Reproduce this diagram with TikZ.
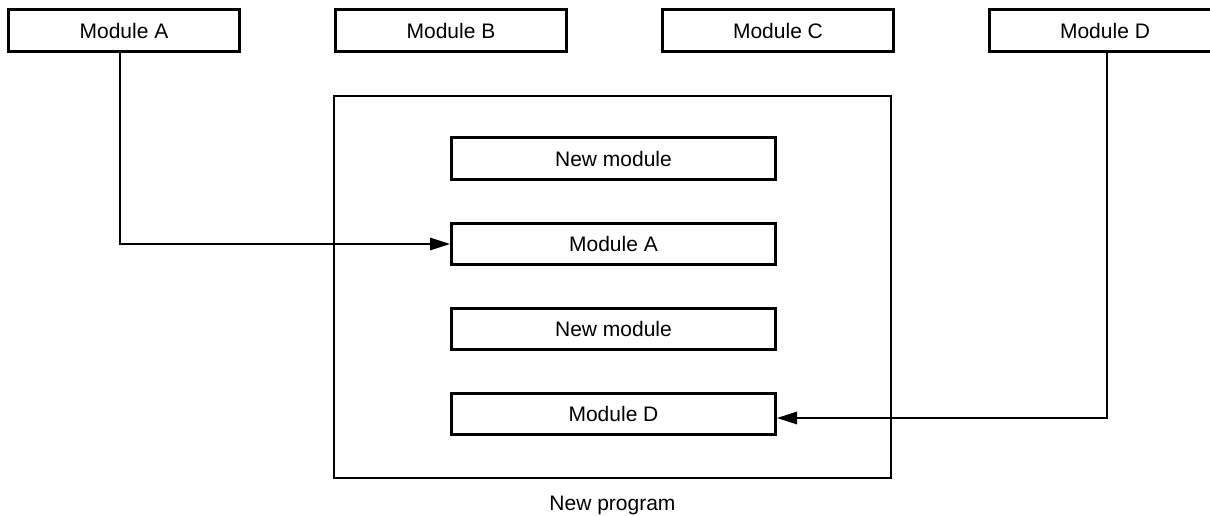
\documentclass[tikz,border=0pt]{standalone}
\usepackage{fontspec}
\setmainfont{Liberation Sans}
\usetikzlibrary{arrows.meta}
\begin{document}
\begin{tikzpicture}[x=1pt,y=-1pt,
  label font/.style={font=\fontsize{21}{25}\selectfont},
  modbox/.style={draw, line width=3pt, minimum width=231pt, minimum height=42pt,
                 inner sep=0pt, label font},
  innerbox/.style={draw, line width=3pt, minimum width=324pt, minimum height=41pt,
                   inner sep=0pt, label font},
  progbox/.style={draw, line width=2pt, minimum width=557pt, minimum height=382pt,
                  inner sep=0pt},
  link/.style={line width=1.3pt, -{Triangle[length=20pt,width=12.5pt]}}]
\clip (0,0) rectangle (1210,516);

% modules of the old program
\node[modbox] (topA) at (124,30.5) {Module A};
\node[modbox] (topB) at (451,30.5) {Module B};
\node[modbox] (topC) at (778,30.5) {Module C};
\node[modbox] (topD) at (1105,30.5) {Module D};

% the new program and its modules
\node[progbox] (prog) at (612.5,287) {};
\node[label font, anchor=center] (progname) at (612.5,505) {New program};
\node[innerbox] (new1) at (613.5,158.5) {New module};
\node[innerbox] (inA)  at (613.5,244)   {Module A};
\node[innerbox] (new2) at (613.5,329)   {New module};
\node[innerbox] (inD)  at (613.5,414)   {Module D};

% reused modules
\coordinate (fromA) at ([xshift=-4pt]topA.south);
\coordinate (fromD) at ([xshift=2pt]topD.south);
\draw[link] (fromA) |- (inA.west);
\draw[link] (fromD) |- ([yshift=-4pt]inD.east);
\end{tikzpicture}
\end{document}
